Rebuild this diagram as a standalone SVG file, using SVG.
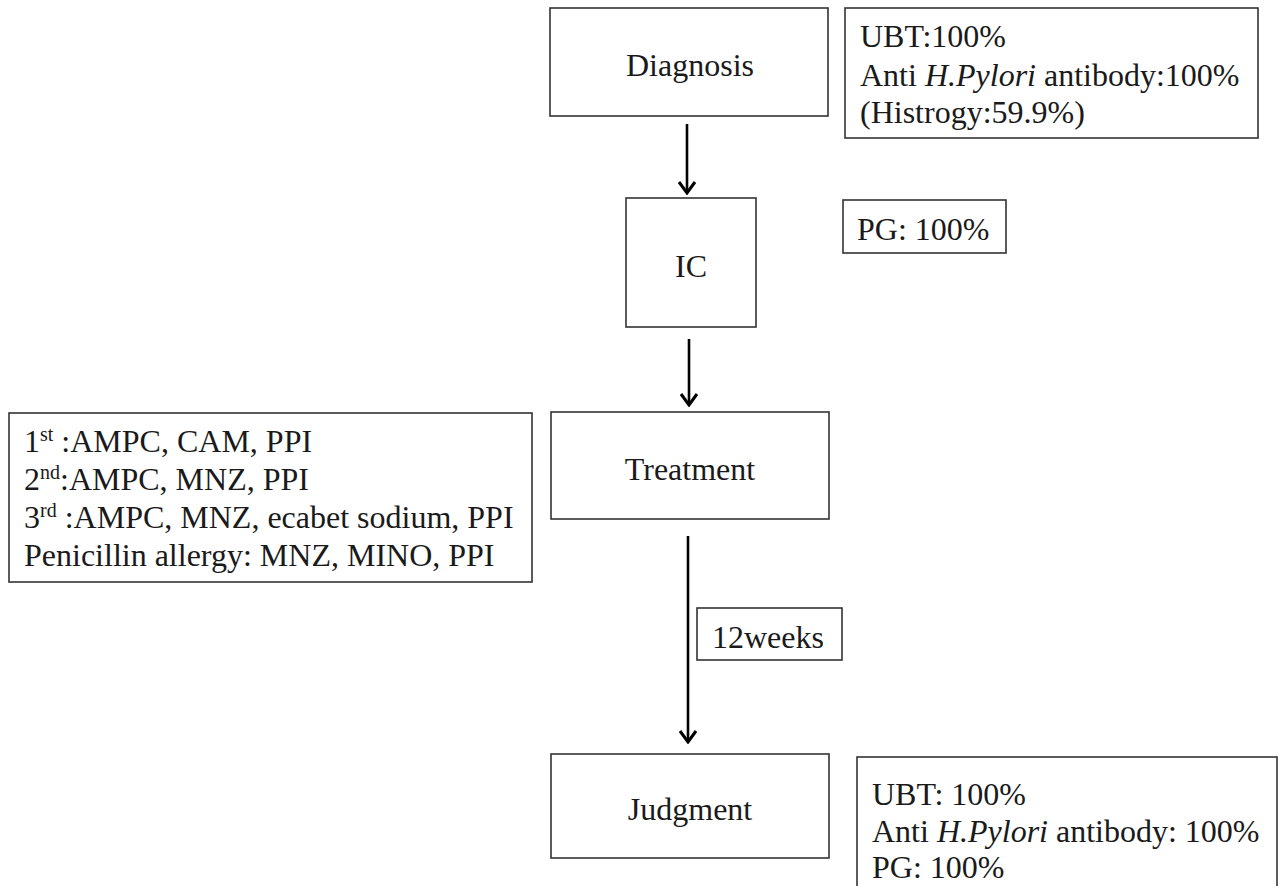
<svg xmlns="http://www.w3.org/2000/svg" width="1282" height="886" viewBox="0 0 1282 886">
<defs>
<style>
.box{fill:#fff;stroke:#333;stroke-width:1.6}
.t{font-family:"Liberation Serif","Times New Roman",serif;font-size:32px;fill:#1a1a1a}
.c{text-anchor:middle}
.sup{font-size:20px}
.conn line{stroke:#000;stroke-width:2.6}
</style>
<marker id="ah" viewBox="0 0 16 20" refX="14" refY="10" markerWidth="16" markerHeight="20" markerUnits="userSpaceOnUse" orient="auto">
<path d="M3,2 L14,10 L3,18" fill="none" stroke="#000" stroke-width="3"/>
</marker>
</defs>
<rect width="1282" height="886" fill="#fff"/>
<g id="connectors" class="conn">
<line x1="687" y1="124" x2="687" y2="193" marker-end="url(#ah)"/>
<line x1="689" y1="339" x2="689" y2="405" marker-end="url(#ah)"/>
<line x1="688" y1="536" x2="688" y2="742" marker-end="url(#ah)"/>
</g>
<g id="diagnosis">
<rect class="box" x="550" y="8" width="278" height="108"/>
<text class="t c" x="690" y="76">Diagnosis</text>
</g>
<g id="diagnosis-note">
<rect class="box" x="845" y="8" width="413" height="130"/>
<text class="t" x="860" y="47">UBT:100%</text>
<text class="t" x="860" y="86">Anti <tspan font-style="italic">H.Pylori</tspan> antibody:100%</text>
<text class="t" x="860" y="123">(Histrogy:59.9%)</text>
</g>
<g id="ic">
<rect class="box" x="626" y="198" width="130" height="129"/>
<text class="t c" x="691" y="277">IC</text>
</g>
<g id="ic-note">
<rect class="box" x="843" y="200" width="163" height="53"/>
<text class="t" x="857" y="240">PG: 100%</text>
</g>
<g id="treatment">
<rect class="box" x="551" y="412" width="278" height="107"/>
<text class="t c" x="690" y="480">Treatment</text>
</g>
<g id="treatment-note">
<rect class="box" x="9" y="413" width="523" height="169"/>
<text class="t" x="24" y="452">1<tspan class="sup" dy="-11">st</tspan><tspan dy="11"> :AMPC, CAM, PPI</tspan></text>
<text class="t" x="24" y="490">2<tspan class="sup" dy="-11">nd</tspan><tspan dy="11">:AMPC, MNZ, PPI</tspan></text>
<text class="t" x="24" y="528">3<tspan class="sup" dy="-11">rd</tspan><tspan dy="11"> :AMPC, MNZ, ecabet sodium, PPI</tspan></text>
<text class="t" x="24" y="566">Penicillin allergy: MNZ, MINO, PPI</text>
</g>
<g id="interval">
<rect class="box" x="697" y="608" width="145" height="52"/>
<text class="t" x="712" y="648">12weeks</text>
</g>
<g id="judgment">
<rect class="box" x="551" y="754" width="278" height="104"/>
<text class="t c" x="690" y="820">Judgment</text>
</g>
<g id="judgment-note">
<rect class="box" x="857" y="757" width="420" height="140"/>
<text class="t" x="872" y="805">UBT: 100%</text>
<text class="t" x="872" y="842">Anti <tspan font-style="italic">H.Pylori</tspan> antibody: 100%</text>
<text class="t" x="872" y="878">PG: 100%</text>
</g>
</svg>
